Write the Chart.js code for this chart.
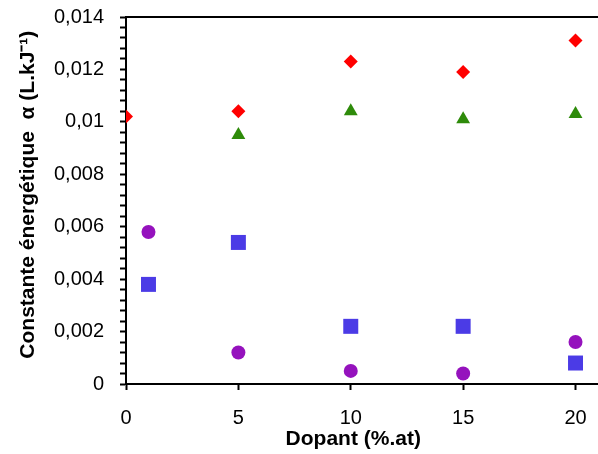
<!DOCTYPE html>
<html>
<head>
<meta charset="utf-8">
<script src="https://cdn.jsdelivr.net/npm/chart.js@4/dist/chart.umd.min.js"></script>
<style>
  html, body { margin: 0; padding: 0; background: #fff; }
  #wrap { width: 598px; height: 454px; }
</style>
</head>
<body>
<div id="wrap"><canvas id="alphaChart" width="598" height="454"></canvas></div>
<script>
// --- data ---
const xRed = [0, 5, 10, 15, 20];
const yRed = [0.0102, 0.0104, 0.0123, 0.0119, 0.0131];

const xGreen = [5, 10, 15, 20];
const yGreen = [0.0095, 0.0104, 0.0101, 0.0103];

const xBlue = [1, 5, 10, 15, 20];
const yBlue = [0.0038, 0.0054, 0.0022, 0.0022, 0.0008];

const xPurple = [1, 5, 10, 15, 20];
const yPurple = [0.0058, 0.0012, 0.0005, 0.0004, 0.0016];

const xTicks = [0, 5, 10, 15, 20];
const yMajorTicks = ['0', '0,002', '0,004', '0,006', '0,008', '0,01', '0,012', '0,014'];

const FONT = "'Liberation Sans', Arial, sans-serif";

function toPoints(xs, ys) {
    return xs.map((x, i) => ({ x: x, y: ys[i] }));
}

// drop the extra room Chart.js keeps for edge labels
function noEdgePadding(scale) {
    scale.paddingTop = 0;
    scale.paddingBottom = 0;
    scale.paddingLeft = 0;
    scale.paddingRight = 0;
}

const ctx = document.getElementById('alphaChart').getContext('2d');

new Chart(ctx, {
    type: 'scatter',
    data: {
        datasets: [
            { data: toPoints(xRed, yRed), pointStyle: 'rectRot', pointRadius: 7,
              backgroundColor: '#ff0000', borderWidth: 0 },
            { data: toPoints(xGreen, yGreen), pointStyle: 'triangle', pointRadius: 8,
              backgroundColor: '#2e8b0a', borderWidth: 0 },
            { data: toPoints(xBlue, yBlue), pointStyle: 'rect', pointRadius: 10.6,
              backgroundColor: '#4b3be6', borderWidth: 0 },
            { data: toPoints(xPurple, yPurple), pointStyle: 'circle', pointRadius: 7,
              backgroundColor: '#9512bd', borderWidth: 0 }
        ]
    },
    options: {
        responsive: false,
        animation: false,
        layout: { autoPadding: false, padding: { top: 17, right: 0, left: 0, bottom: 0 } },
        plugins: { legend: { display: false }, tooltip: { enabled: false } },
        scales: {
            x: {
                type: 'linear',
                min: 0,
                max: 21,
                afterFit: scale => { scale.height = 70; noEdgePadding(scale); },
                ticks: {
                    stepSize: 5,
                    includeBounds: false,
                    padding: 16,
                    color: '#000',
                    font: { family: FONT, size: 20 },
                    callback: v => xTicks.includes(v) ? String(v) : ''
                },
                grid: { drawOnChartArea: false, tickLength: 6, tickColor: '#000', tickWidth: 2 },
                border: { color: '#000', width: 2 },
                title: {
                    display: true,
                    text: 'Dopant (%.at)   ',
                    color: '#000',
                    font: { family: FONT, size: 21, weight: 'bold' },
                    padding: { top: 0, bottom: 2 }
                }
            },
            xTop: {
                type: 'linear',
                position: 'top',
                min: 0,
                max: 21,
                afterFit: scale => { scale.height = 0; noEdgePadding(scale); },
                ticks: { display: false },
                grid: { drawOnChartArea: false, drawTicks: false, color: '#000' },
                border: { display: true, color: '#000', width: 2 }
            },
            y: {
                min: 0,
                max: 0.014,
                afterFit: scale => { scale.width = 126; noEdgePadding(scale); },
                ticks: {
                    stepSize: 0.0004,
                    autoSkip: false,
                    padding: 16,
                    color: '#000',
                    font: { family: FONT, size: 20 },
                    callback: function (v) {
                        const k = Math.round(v / 0.0004);
                        return k % 5 === 0 ? yMajorTicks[k / 5] : '';
                    }
                },
                grid: { drawOnChartArea: false, tickLength: 6, tickColor: '#000', tickWidth: 2 },
                border: { color: '#000', width: 2 },
                title: {
                    display: true,
                    text: '  Constante énergétique  α (L.kJ⁻¹)',
                    color: '#000',
                    font: { family: FONT, size: 21, weight: 'bold' },
                    padding: { top: 16, bottom: 0 }
                }
            }
        }
    }
});
</script>
</body>
</html>
